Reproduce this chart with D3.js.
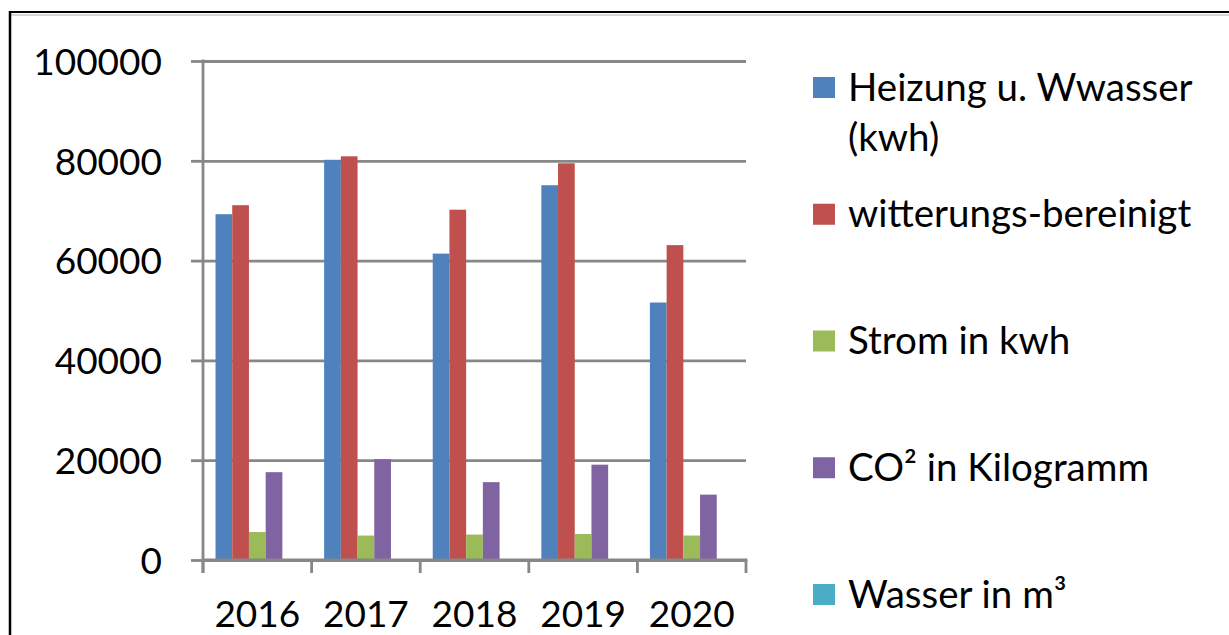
<!DOCTYPE html>
<html>
<head>
<meta charset="utf-8">
<script src="https://cdn.jsdelivr.net/npm/d3@7"></script>
<style>
  html, body { margin: 0; padding: 0; background: #fff; }
  svg { display: block; }
  text { font-family: Lato, "Open Sans", sans-serif; fill: #000; }
</style>
</head>
<body>
<svg id="chart" width="1229" height="635"></svg>
<script>
// ---- data ----
const years = ["2016", "2017", "2018", "2019", "2020"];
const seriesNames = ["Heizung u. Wwasser (kwh)", "witterungs-bereinigt", "Strom in kwh", "CO² in Kilogramm", "Wasser in m³"];
const heizung = [69300, 80200, 61400, 75100, 51600];
const witterung = [71100, 80900, 70200, 79500, 63100];
const strom = [5600, 4900, 5100, 5200, 4900];
const co2 = [17600, 20200, 15600, 19100, 13100];
const wasser = [150, 160, 140, 150, 130];
const yTicks = [0, 20000, 40000, 60000, 80000, 100000];
const colors = ["#4F81BD", "#C0504D", "#9BBB59", "#8064A2", "#4BACC6"];

(function () {
const seriesValues = [heizung, witterung, strom, co2, wasser];
const table = years.map((yr, i) => ({ year: yr, values: seriesValues.map((s, k) => ({ key: k, value: s[i] })) }));

const svg = d3.select("#chart");
const W = 1229, H = 635;

// frame
svg.append("line").attr("x1", 10).attr("x2", W).attr("y1", 15).attr("y2", 15).attr("stroke", "#c8c8c8").attr("stroke-width", 1.5);
svg.append("line").attr("x1", 10).attr("x2", W).attr("y1", 12).attr("y2", 12).attr("stroke", "#000").attr("stroke-width", 2);
svg.append("line").attr("x1", 10).attr("x2", 10).attr("y1", 11).attr("y2", H).attr("stroke", "#000").attr("stroke-width", 2.5);

// plot geometry
const pLeft = 203, pRight = 746, pTop = 61, pBottom = 560;
const x0 = d3.scaleBand().domain(years).range([pLeft, pRight]).padding(0);
const x1 = d3.scaleBand().domain(d3.range(seriesNames.length)).range([0, x0.bandwidth()]).paddingInner(0).paddingOuter(0.75);
const y = d3.scaleLinear().domain([0, 100000]).range([pBottom, pTop]);

const gridColor = "#878787";

// gridlines
const grid = svg.append("g").attr("transform", `translate(${pLeft},0)`)
  .call(d3.axisLeft(y).tickValues(yTicks).tickSize(-(pRight - pLeft)).tickFormat(""));
grid.select(".domain").remove();
grid.selectAll("line").attr("stroke", gridColor).attr("stroke-width", 2.8);

// bars
const groups = svg.append("g").selectAll("g").data(table).join("g")
  .attr("transform", d => `translate(${x0(d.year)},0)`);
groups.selectAll("rect").data(d => d.values).join("rect")
  .attr("x", d => x1(d.key))
  .attr("width", x1.bandwidth())
  .attr("y", d => y(d.value))
  .attr("height", d => y(0) - y(d.value))
  .attr("fill", d => colors[d.key]);

// y axis
const yAxis = svg.append("g").attr("transform", `translate(${pLeft},0)`)
  .call(d3.axisLeft(y).tickValues(yTicks).tickSize(12).tickSizeOuter(0).tickPadding(29).tickFormat(d3.format("d")));
yAxis.select(".domain").remove();
yAxis.selectAll("line").attr("stroke", gridColor).attr("stroke-width", 2.8);
yAxis.selectAll("text").attr("font-family", "Lato, 'Open Sans', sans-serif").attr("font-size", 37).attr("fill", "#000").attr("dy", "0.36em");
svg.append("line").attr("x1", pLeft).attr("x2", pLeft).attr("y1", y(100000) - 1.4).attr("y2", pBottom + 13)
  .attr("stroke", gridColor).attr("stroke-width", 2.8);

// x axis
svg.append("line").attr("x1", pLeft).attr("x2", pRight + 1.4).attr("y1", pBottom).attr("y2", pBottom)
  .attr("stroke", gridColor).attr("stroke-width", 2.8);
const boundaries = years.map(d => x0(d)).concat([x0(years[years.length - 1]) + x0.bandwidth()]);
svg.append("g").selectAll("line").data(boundaries).join("line")
  .attr("x1", d => d).attr("x2", d => d).attr("y1", pBottom).attr("y2", pBottom + 13)
  .attr("stroke", gridColor).attr("stroke-width", 2.8);
svg.append("g").selectAll("text").data(years).join("text")
  .attr("x", d => x0(d) + x0.bandwidth() / 2)
  .attr("y", 627)
  .attr("text-anchor", "middle")
  .attr("font-size", 37)
  .text(d => d);

// legend
const legendLines = [["Heizung u. Wwasser", "(kwh)"], ["witterungs-bereinigt"], ["Strom in kwh"], ["CO² in Kilogramm"], ["Wasser in m³"]];
const legendY = d3.scalePoint().domain(d3.range(seriesNames.length)).range([87.5, 594.5]);
const leg = svg.append("g").selectAll("g").data(d3.range(seriesNames.length)).join("g")
  .attr("transform", k => `translate(813,${legendY(k)})`);
leg.append("rect").attr("x", 0).attr("y", -10.5).attr("width", 22).attr("height", 21).attr("fill", k => colors[k]);
leg.each(function (k) {
  const g = d3.select(this);
  legendLines[k].forEach((ln, j) => {
    g.append("text").attr("x", 35).attr("y", 13 + j * 50).attr("font-size", 38.5).text(ln);
  });
});
})();
</script>
</body>
</html>
